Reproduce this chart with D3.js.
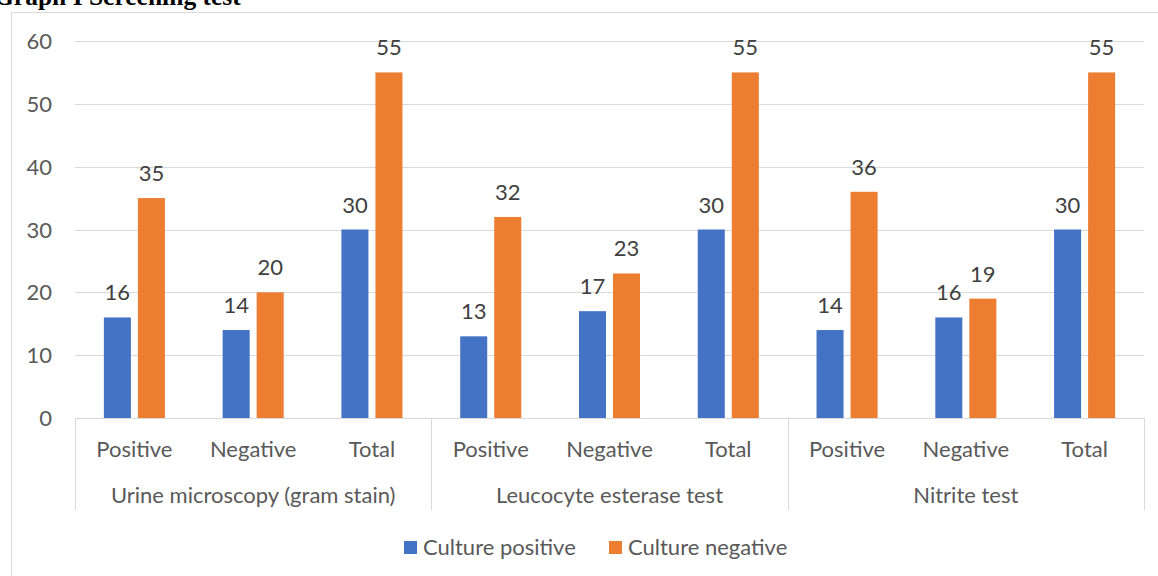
<!DOCTYPE html>
<html>
<head>
<meta charset="utf-8">
<script src="https://cdn.jsdelivr.net/npm/d3@7"></script>
<style>
html,body{margin:0;padding:0;background:#fff;overflow:hidden;}
svg{display:block;}
</style>
</head>
<body>
<svg id="chart" width="1158" height="576"></svg>
<script>
const title = "Graph I Screening test";
const groups = ["Urine microscopy (gram stain)", "Leucocyte esterase test", "Nitrite test"];
const subCategories = ["Positive", "Negative", "Total"];
const seriesNames = ["Culture positive", "Culture negative"];
const culturePositive = [16, 14, 30, 13, 17, 30, 14, 16, 30];
const cultureNegative = [35, 20, 55, 32, 23, 55, 36, 19, 55];
const yTicks = [0, 10, 20, 30, 40, 50, 60];
const colors = ["#4472C4", "#ED7D31"];

(function () {
const svg = d3.select("#chart");
const font = "Lato, 'Noto Sans', sans-serif";
const fs = 22;

// chart border
svg.append("rect").attr("x", 11.5).attr("y", 12.5).attr("width", 1200).attr("height", 620)
  .attr("fill", "none").attr("stroke", "#d9d9d9").attr("stroke-width", 1);

// title
svg.append("text").attr("x", -6).attr("y", 5).text(title)
  .attr("font-family", "'Liberation Serif', 'Times New Roman', serif")
  .attr("font-weight", "bold").attr("font-size", 25.5).attr("fill", "#000");

const pLeft = 75, pRight = 1144, pTop = 41, pBottom = 418;
const cats = [];
groups.forEach((g, gi) => subCategories.forEach((s, si) => cats.push({g, s, i: gi * 3 + si})));

const y = d3.scaleLinear().domain([0, 60]).range([pBottom, pTop]);
const x0 = d3.scaleBand().domain(cats.map(c => c.i)).range([pLeft, pRight])
  .paddingInner(0.486).paddingOuter(0.243);
const x1 = d3.scaleBand().domain(seriesNames).range([0, x0.bandwidth()]).paddingInner(0.206);

// gridlines
svg.append("g").selectAll("line").data(yTicks.filter(t => t > 0)).join("line")
  .attr("x1", pLeft).attr("x2", pRight)
  .attr("y1", d => Math.round(y(d)) + 0.5).attr("y2", d => Math.round(y(d)) + 0.5)
  .attr("stroke", "#d9d9d9").attr("stroke-width", 1);

// y tick labels
svg.append("g").selectAll("text").data(yTicks).join("text")
  .attr("x", 52).attr("y", d => y(d) + 8).attr("text-anchor", "end")
  .attr("font-family", font).attr("font-size", fs).attr("fill", "#595959")
  .text(d => d);

// bars
const series = [culturePositive, cultureNegative];
series.forEach((vals, si) => {
  const g = svg.append("g");
  g.selectAll("rect").data(cats).join("rect")
    .attr("x", d => x0(d.i) + x1(seriesNames[si]))
    .attr("width", x1.bandwidth())
    .attr("y", d => y(vals[d.i]))
    .attr("height", d => y(0) - y(vals[d.i]))
    .attr("fill", colors[si]);
  g.selectAll("text").data(cats).join("text")
    .attr("x", d => x0(d.i) + x1(seriesNames[si]) + x1.bandwidth() / 2)
    .attr("y", d => y(vals[d.i]) - 17)
    .attr("text-anchor", "middle")
    .attr("font-family", font).attr("font-size", fs).attr("fill", "#404040")
    .text(d => vals[d.i]);
});

// category axis
svg.append("line").attr("x1", pLeft).attr("x2", pRight).attr("y1", pBottom + 0.5).attr("y2", pBottom + 0.5)
  .attr("stroke", "#d9d9d9").attr("stroke-width", 1);
const step = x0.step();
const sepX = [0, 3, 6, 9].map(k => k === 9 ? pRight : x0(k) - x0.paddingOuter() * step);
svg.append("g").selectAll("line").data(sepX).join("line")
  .attr("x1", d => Math.round(d) + 0.5).attr("x2", d => Math.round(d) + 0.5)
  .attr("y1", pBottom).attr("y2", 510)
  .attr("stroke", "#d9d9d9").attr("stroke-width", 1);

svg.append("g").selectAll("text").data(cats).join("text")
  .attr("x", d => x0(d.i) + x0.bandwidth() / 2).attr("y", 457)
  .attr("text-anchor", "middle")
  .attr("font-family", font).attr("font-size", fs).attr("fill", "#595959")
  .text(d => d.s);

svg.append("g").selectAll("text").data(groups).join("text")
  .attr("x", (d, i) => (sepX[i] + sepX[i + 1]) / 2).attr("y", 503)
  .attr("text-anchor", "middle")
  .attr("font-family", font).attr("font-size", fs).attr("fill", "#595959")
  .text(d => d);

// legend
const legendX = [404, 609];
const lg = svg.append("g");
seriesNames.forEach((name, i) => {
  lg.append("rect").attr("x", legendX[i]).attr("y", 541).attr("width", 13).attr("height", 13)
    .attr("fill", colors[i]);
  lg.append("text").attr("x", legendX[i] + 19).attr("y", 555)
    .attr("font-family", font).attr("font-size", fs).attr("fill", "#595959")
    .text(name);
});
})();
</script>
</body>
</html>
